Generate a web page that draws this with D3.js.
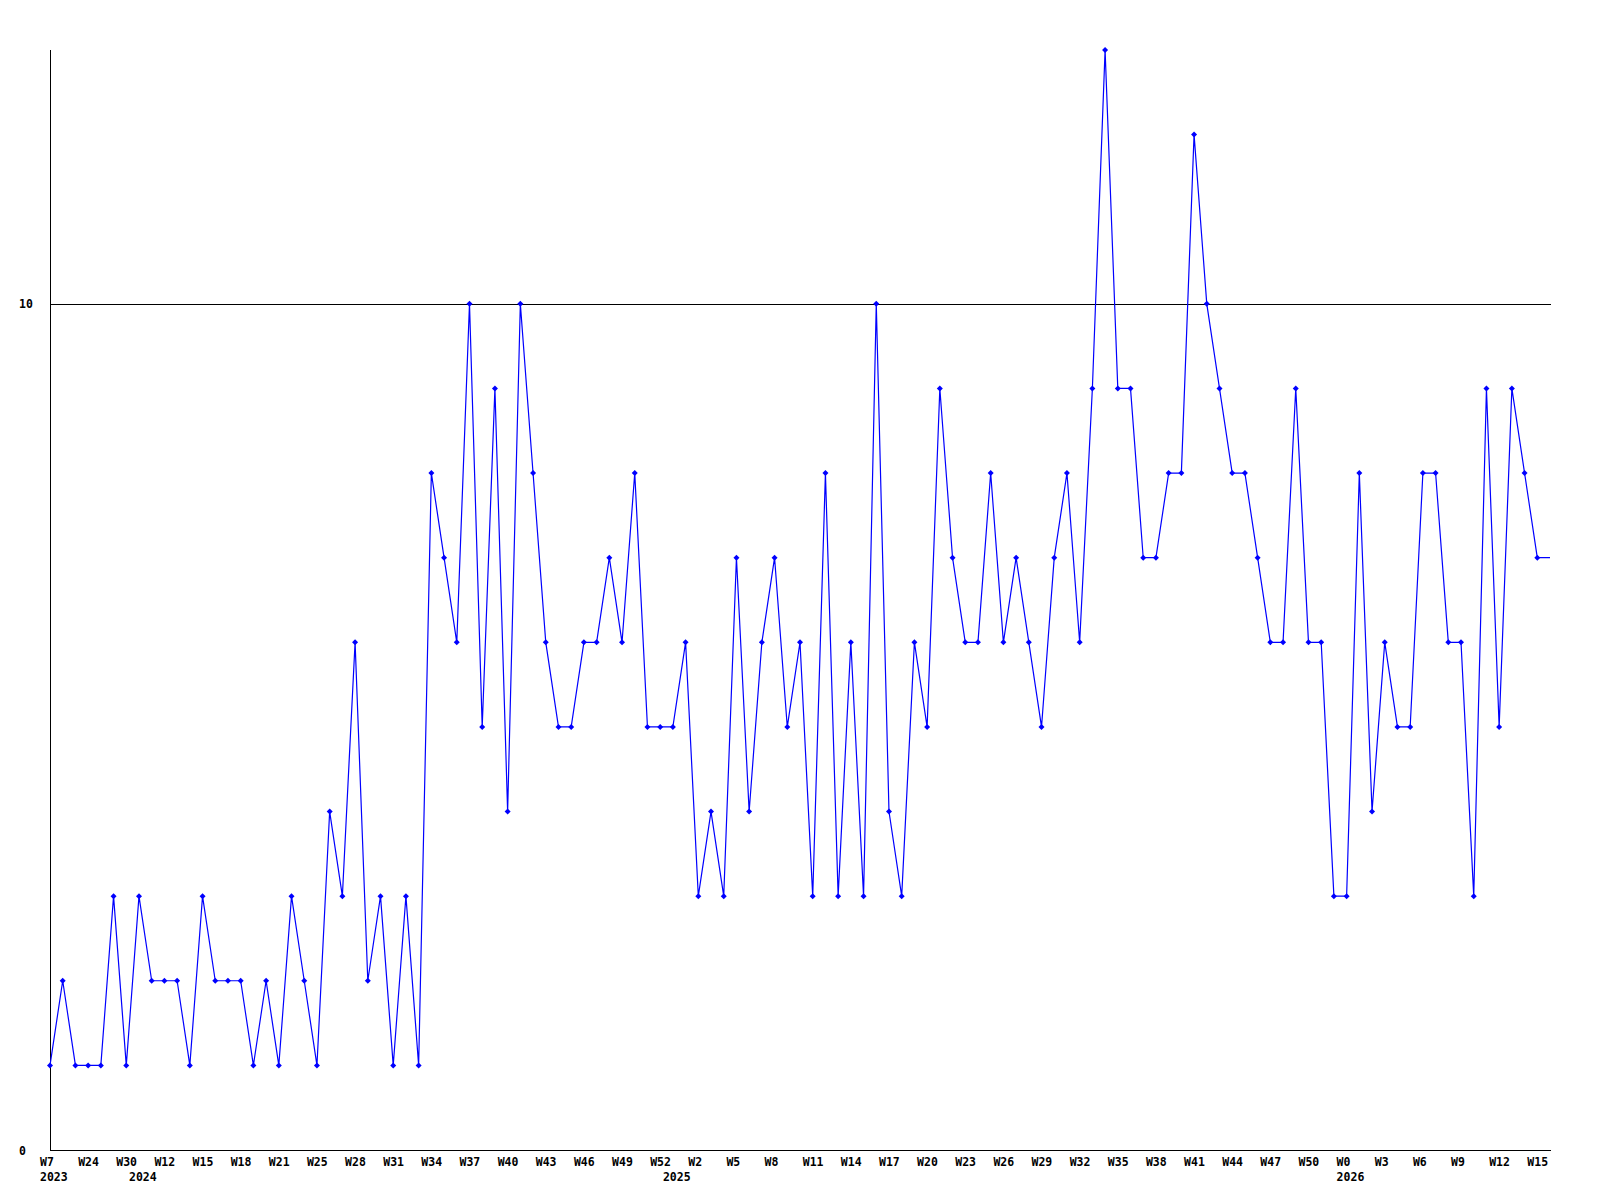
<!DOCTYPE html>
<html>
<head>
<meta charset="utf-8">
<script src="https://cdn.jsdelivr.net/npm/d3@7"></script>
<style>
  html, body { margin: 0; padding: 0; background: #ffffff; }
  svg { display: block; }
  text { font-family: "DejaVu Sans Mono", "Liberation Mono", monospace; font-weight: bold; font-size: 11.5px; fill: #000; }
</style>
</head>
<body>
<svg id="chart" width="1600" height="1200"></svg>
<script>
// ---- data ----
const values = [
  1,2,1,1,1,3,1,3,2,2,
  2,1,3,2,2,2,1,2,1,3,
  2,1,4,3,6,2,3,1,3,1,
  8,7,6,10,5,9,4,10,8,6,
  5,5,6,6,7,6,8,5,5,5,
  6,3,4,3,7,4,6,7,5,6,
  3,8,3,6,3,10,4,3,6,5,
  9,7,6,6,8,6,7,6,5,7,
  8,6,9,13,9,9,7,7,8,8,
  12,10,9,8,8,7,6,6,9,6,
  6,3,3,8,4,6,5,5,8,8,
  6,6,3,9,5,9,8,7,7
];
const weekLabels = ["W7","W24","W30","W12","W15","W18","W21","W25","W28","W31",
  "W34","W37","W40","W43","W46","W49","W52","W2","W5","W8",
  "W11","W14","W17","W20","W23","W26","W29","W32","W35","W38",
  "W41","W44","W47","W50","W0","W3","W6","W9","W12","W15"];
const labelStep = 3;
const yearLabels = ["2023","2024","2025","2026"];
const yearIndex = [0, 7, 49, 102];
const yTicks = [0, 10];
const yMax = 13;

// ---- layout ----
const svg = d3.select("#chart");
const mLeft = 50, mRight = 1550, axisRight = 1551, mTop = 50, mBottom = 1150;

const x = d3.scaleLinear().domain([0, values.length - 1]).range([mLeft, mRight]);
const y = d3.scaleLinear().domain([0, yMax]).range([mBottom, mTop]);

// gridline at 10
svg.append("g").selectAll("line").data(yTicks.filter(d => d > 0)).join("line")
  .attr("x1", mLeft).attr("x2", axisRight)
  .attr("y1", d => Math.round(y(d)) + 0.5).attr("y2", d => Math.round(y(d)) + 0.5)
  .attr("stroke", "#000").attr("stroke-width", 1);

// axes lines
svg.append("line").attr("x1", mLeft + 0.5).attr("x2", mLeft + 0.5)
  .attr("y1", mTop).attr("y2", mBottom + 0.5).attr("stroke", "#000");
svg.append("line").attr("x1", mLeft).attr("x2", axisRight)
  .attr("y1", mBottom + 0.5).attr("y2", mBottom + 0.5).attr("stroke", "#000");

// y axis labels
const yAxis = d3.axisLeft(y).tickValues(yTicks).tickSize(0).tickFormat(d3.format("d"));
const gy = svg.append("g").attr("transform", `translate(${mLeft},0)`).call(yAxis);
gy.select(".domain").remove();
gy.selectAll("text").attr("x", 19 - mLeft).attr("text-anchor", "start")
  .attr("dy", "0.35em").attr("font-size", null).attr("font-family", null);
gy.attr("font-size", null).attr("font-family", null);

// x axis week labels
const tickIdx = weekLabels.map((_, i) => i * labelStep);
const xAxis = d3.axisBottom(x).tickValues(tickIdx).tickSize(0)
  .tickFormat((d, i) => weekLabels[i]);
const gx = svg.append("g").attr("transform", `translate(0,${mBottom})`).call(xAxis);
gx.select(".domain").remove();
gx.attr("font-size", null).attr("font-family", null);
gx.selectAll("text").attr("x", -10.5).attr("y", 12).attr("dy", "0.35em")
  .attr("text-anchor", "start");

// year labels
const yearAxis = d3.axisBottom(x).tickValues(yearIndex).tickSize(0)
  .tickFormat((d, i) => yearLabels[i]);
const gyr = svg.append("g").attr("transform", `translate(0,${mBottom})`).call(yearAxis);
gyr.select(".domain").remove();
gyr.attr("font-size", null).attr("font-family", null);
gyr.selectAll("text").attr("x", -10.5).attr("y", 27).attr("dy", "0.35em")
  .attr("text-anchor", "start");

// line
const line = d3.line().x((d, i) => x(i)).y(d => y(d));
svg.append("path").datum(values)
  .attr("d", line).attr("fill", "none").attr("stroke", "#0000ff")
  .attr("stroke-width", 1.2);

// markers (last point is the running edge, no marker)
const marker = "M-3,0L0,-3L3,0L0,3Z";
svg.append("g").selectAll("path")
  .data(values.slice(0, values.length - 1))
  .join("path")
  .attr("transform", (d, i) => `translate(${x(i)},${y(d)})`)
  .attr("d", marker).attr("fill", "#0000ff");
</script>
</body>
</html>
